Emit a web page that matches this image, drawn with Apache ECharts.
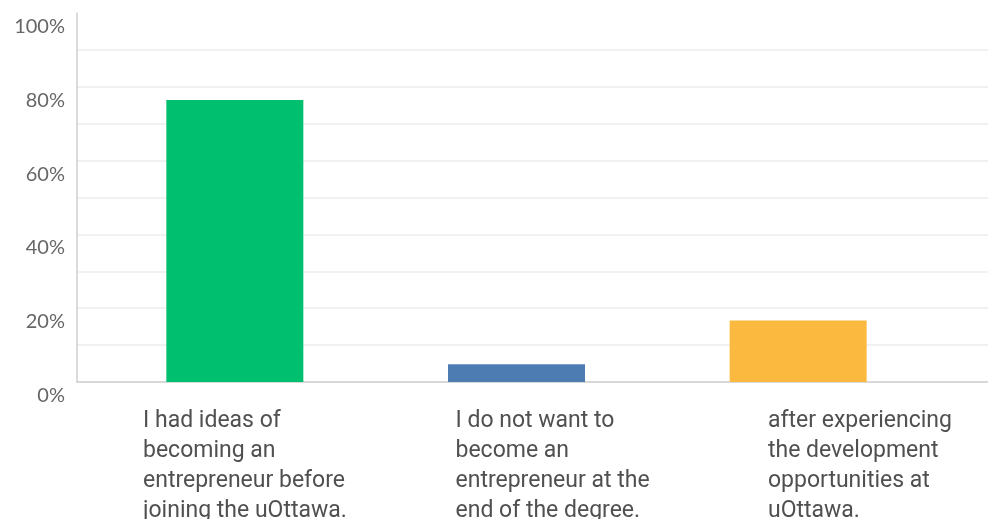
<!DOCTYPE html>
<html>
<head>
<meta charset="utf-8">
<style>
  html, body { margin: 0; padding: 0; background: #ffffff; }
  #chart { width: 988px; height: 519px; }
</style>
<script src="https://cdn.jsdelivr.net/npm/echarts@6/dist/echarts.min.js"></script>
</head>
<body>
<div id="chart"></div>
<script>
// Answer options (line breaks as shown under each bar)
const categories = [
  'I had ideas of\nbecoming an\nentrepreneur before\njoining the uOttawa.',
  'I do not want to\nbecome an\nentrepreneur at the\nend of the degree.',
  'after experiencing\nthe development\nopportunities at\nuOttawa.'
];
// Share of respondents, percent
const values = [76.4, 4.8, 16.7];
const barColors = ['#00bf6f', '#4d7cb3', '#fbba3f'];
// Percent axis
const yMin = 0;
const yMax = 100;
const yStep = 10;
const yLabelStep = 20;

const chart = echarts.init(document.getElementById('chart'), null, { renderer: 'canvas' });

const gridTop = 13;
const gridBottom = 137;

// one colour per gridline; the top line is left out
const splitColors = [];
for (let v = yMin; v <= yMax; v += yStep) {
  splitColors.push(v === yMax ? 'rgba(0,0,0,0)' : '#ececec');
}

const hiddenValueAxis = (gridIndex) => ({
  type: 'value', gridIndex, min: yMin, max: yMax, interval: yStep,
  show: false, splitLine: { show: false }
});

const gridBox = (left, right) => ({
  left, right, top: gridTop, bottom: gridBottom,
  containLabel: false, outerBoundsMode: 'none'
});

chart.setOption({
  animation: false,
  grid: [
    gridBox(77, 0),     // frame + gridlines
    gridBox(94, 49),    // bars
    gridBox(143, 220)   // category labels
  ],
  xAxis: [
    {
      type: 'category', gridIndex: 0, data: categories,
      axisLine: { show: true, lineStyle: { color: '#cfcfcf', width: 1.5 } },
      axisTick: { show: false }, axisLabel: { show: false }
    },
    {
      type: 'category', gridIndex: 1, data: categories, show: false
    },
    {
      type: 'category', gridIndex: 2, data: categories, boundaryGap: false,
      axisLine: { show: false }, axisTick: { show: false },
      axisLabel: {
        show: true, interval: 0, align: 'left', verticalAlign: 'top', margin: 24,
        color: '#505050', fontSize: 23, lineHeight: 30,
        fontFamily: 'Roboto, sans-serif'
      }
    }
  ],
  yAxis: [
    {
      type: 'value', gridIndex: 0, min: yMin, max: yMax, interval: yStep,
      axisLine: { show: true, lineStyle: { color: '#cfcfcf', width: 1.5 } },
      axisTick: { show: false },
      splitLine: { show: true, lineStyle: { color: splitColors, width: 1.5 } },
      axisLabel: {
        margin: 12, color: '#666666', fontSize: 20,
        fontFamily: 'Lato, "Open Sans", sans-serif',
        verticalAlign: 'top', lineHeight: 27,
        formatter: (v) => (v % yLabelStep === 0 ? v + '%' : '')
      }
    },
    hiddenValueAxis(1),
    hiddenValueAxis(2)
  ],
  series: [
    {
      type: 'bar', xAxisIndex: 1, yAxisIndex: 1,
      barWidth: 137,
      data: values.map((v, i) => ({ value: v, itemStyle: { color: barColors[i] } }))
    }
  ]
});
</script>
</body>
</html>
